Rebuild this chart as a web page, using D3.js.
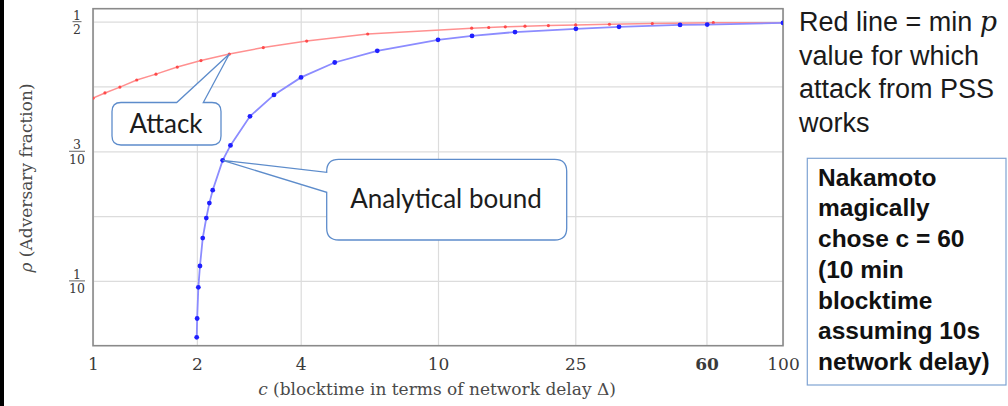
<!DOCTYPE html>
<html>
<head>
<meta charset="utf-8">
<script src="https://cdn.jsdelivr.net/npm/d3@7"></script>
<style>
  html, body { margin: 0; padding: 0; background: #fff; }
  svg { display: block; }
</style>
</head>
<body>
<div id="chart"></div>
<script>
// 数据：横轴 c（区块时间 / 网络延迟），纵轴 rho（对手占比）
const attackC   = [1, 1.083, 1.197, 1.339, 1.522, 1.755, 2.056, 2.484, 3.116, 4.163, 6.255, 12.52, 14.03, 15.67, 17.87, 20.89, 25.06, 31.4, 41.8, 62.8, 100];
const attackRho = [0.382, 0.390, 0.399, 0.410, 0.419, 0.430, 0.440, 0.450, 0.460, 0.470, 0.481, 0.490, 0.491, 0.492, 0.493, 0.494, 0.495, 0.496, 0.497, 0.4985, 0.4985];

const boundC   = [1.998, 2.004, 2.02, 2.042, 2.08, 2.13, 2.174, 2.223, 2.376, 2.503, 2.851, 3.346, 4.008, 5.02, 6.668, 10.0, 12.55, 16.72, 25.1, 33.47, 50.3, 60.3, 100];
const boundRho = [0.013, 0.042, 0.090, 0.123, 0.166, 0.197, 0.220, 0.240, 0.286, 0.309, 0.354, 0.387, 0.414, 0.437, 0.455, 0.472, 0.478, 0.484, 0.489, 0.492, 0.495, 0.4955, 0.498];

// 刻度
const xTickValues = [1, 2, 4, 10, 25, 60, 100];
const yGridValues = [0.1, 0.2, 0.3, 0.4, 0.5];
const yTickValues = [0.1, 0.3, 0.5];
const yTickNum = ["1", "3", "1"];
const yTickDen = ["10", "10", "2"];

// 右侧文字
const noteLines = ["Red line = min ", "value for which", "attack from PSS", "works"];
const boxLines = ["Nakamoto", "magically", "chose c = 60", "(10 min", "blocktime", "assuming 10s", "network delay)"];

const W = 1008, H = 406;
const plot = { left: 93, right: 783, top: 8.7, bottom: 345.7 };

const svg = d3.select("#chart").append("svg")
    .attr("width", W)
    .attr("height", H);

// 左侧黑色边条
svg.append("rect").attr("x", 0).attr("y", 0).attr("width", 4).attr("height", H).attr("fill", "#000");

const x = d3.scaleLog().domain([1, 100]).range([plot.left, plot.right]);
const y = d3.scaleLinear().domain([0, 0.52]).range([plot.bottom, plot.top]);

const serif = "'DejaVu Serif', serif";

// 网格线
const gx = svg.append("g")
    .attr("transform", `translate(0,${plot.bottom})`)
    .call(d3.axisBottom(x).tickValues(xTickValues).tickSize(-(plot.bottom - plot.top)).tickFormat(d => d));
gx.select(".domain").remove();
gx.selectAll(".tick line").attr("stroke", "#dcdcdc").attr("stroke-width", 1.2);
gx.selectAll(".tick text")
    .attr("y", 12)
    .attr("font-family", serif)
    .attr("font-size", 17)
    .attr("fill", "#3a3a3a")
    .attr("font-weight", d => d === 60 ? "bold" : "normal");

const gy = svg.append("g")
    .attr("transform", `translate(${plot.left},0)`)
    .call(d3.axisLeft(y).tickValues(yGridValues).tickSize(-(plot.right - plot.left)).tickFormat(""));
gy.select(".domain").remove();
gy.selectAll(".tick line").attr("stroke", "#dcdcdc").attr("stroke-width", 1.2);

// 纵轴分数标签
const frac = svg.append("g")
    .selectAll("g")
    .data(yTickValues)
    .enter().append("g")
    .attr("transform", d => `translate(77,${y(d)})`);
frac.append("text")
    .text((d, i) => yTickNum[i])
    .attr("text-anchor", "middle")
    .attr("y", -2)
    .attr("font-family", serif)
    .attr("font-size", 12.5)
    .attr("fill", "#3a3a3a");
frac.append("line")
    .attr("x1", (d, i) => yTickDen[i].length > 1 ? -8 : -4.5)
    .attr("x2", (d, i) => yTickDen[i].length > 1 ? 8 : 4.5)
    .attr("y1", 0).attr("y2", 0)
    .attr("stroke", "#555").attr("stroke-width", 0.9);
frac.append("text")
    .text((d, i) => yTickDen[i])
    .attr("text-anchor", "middle")
    .attr("y", 12.5)
    .attr("font-family", serif)
    .attr("font-size", 12.5)
    .attr("fill", "#3a3a3a");

// 边框
svg.append("rect")
    .attr("x", plot.left).attr("y", plot.top)
    .attr("width", plot.right - plot.left).attr("height", plot.bottom - plot.top)
    .attr("fill", "none").attr("stroke", "#8a8a8a").attr("stroke-width", 1.6);

// 轴标题
svg.append("text")
    .attr("x", 437).attr("y", 395)
    .attr("text-anchor", "middle")
    .attr("font-family", serif).attr("font-size", 17).attr("fill", "#4a4a4a")
    .call(t => {
        t.append("tspan").attr("font-style", "italic").text("c");
        t.append("tspan").text(" (blocktime in terms of network delay Δ)");
    });
svg.append("text")
    .attr("transform", "translate(32,178) rotate(-90)")
    .attr("text-anchor", "middle")
    .attr("font-family", serif).attr("font-size", 17).attr("fill", "#4a4a4a")
    .call(t => {
        t.append("tspan").attr("font-style", "italic").text("ρ");
        t.append("tspan").text(" (Adversary fraction)");
    });

// 裁剪
svg.append("clipPath").attr("id", "clip")
    .append("rect")
    .attr("x", plot.left).attr("y", plot.top)
    .attr("width", plot.right - plot.left).attr("height", plot.bottom - plot.top);

const attackData = attackC.map((c, i) => ({ c, r: attackRho[i] }));
const boundData = boundC.map((c, i) => ({ c, r: boundRho[i] }));

const line = d3.line().x(d => x(d.c)).y(d => y(d.r));
const series = svg.append("g").attr("clip-path", "url(#clip)");

series.append("path").datum(attackData)
    .attr("d", line).attr("fill", "none")
    .attr("stroke", "#ff9090").attr("stroke-width", 1.5);
series.append("g").selectAll("circle").data(attackData).enter().append("circle")
    .attr("cx", d => x(d.c)).attr("cy", d => y(d.r)).attr("r", 1.6)
    .attr("fill", "#ff4a4a");

series.append("path").datum(boundData)
    .attr("d", line).attr("fill", "none")
    .attr("stroke", "#8c8cff").attr("stroke-width", 1.8);
series.append("g").selectAll("circle").data(boundData).enter().append("circle")
    .attr("cx", d => x(d.c)).attr("cy", d => y(d.r)).attr("r", 2.4)
    .attr("fill", "#1f1fff");

// 标注框（圆角矩形 + 指针）
function calloutPath(b, side, p0, p1, tip) {
    const r = b.r, x0 = b.x0, x1 = b.x1, y0 = b.y0, y1 = b.y1;
    let d = `M${x0 + r},${y0}`;
    if (side === "top") d += `L${p0},${y0}L${tip[0]},${tip[1]}L${p1},${y0}`;
    d += `L${x1 - r},${y0}Q${x1},${y0} ${x1},${y0 + r}`;
    d += `L${x1},${y1 - r}Q${x1},${y1} ${x1 - r},${y1}`;
    d += `L${x0 + r},${y1}Q${x0},${y1} ${x0},${y1 - r}`;
    if (side === "left") d += `L${x0},${p1}L${tip[0]},${tip[1]}L${x0},${p0}`;
    d += `L${x0},${y0 + r}Q${x0},${y0} ${x0 + r},${y0}Z`;
    return d;
}

const callStroke = "#5d8ccb";
const callFont = "Lato, 'Open Sans', sans-serif";

// Attack：指向红线上 c≈2.48 的点
const attackTip = [x(attackC[7]), y(attackRho[7])];
svg.append("path")
    .attr("d", calloutPath({ x0: 112, x1: 221, y0: 102.5, y1: 145, r: 9 }, "top", 176.7, 203.3, attackTip))
    .attr("fill", "#fff").attr("stroke", callStroke).attr("stroke-width", 1.3);
svg.append("text")
    .attr("x", 166).attr("y", 132.5)
    .attr("text-anchor", "middle")
    .attr("font-family", callFont).attr("font-size", 26).attr("fill", "#1c1c1c")
    .text("Attack");

// Analytical bound：指向蓝线上 c≈2.38 的点
const boundTip = [x(boundC[8]), y(boundRho[8])];
svg.append("path")
    .attr("d", calloutPath({ x0: 326.7, x1: 566.7, y0: 159.3, y1: 240, r: 12 }, "left", 172.3, 192.3, boundTip))
    .attr("fill", "#fff").attr("stroke", callStroke).attr("stroke-width", 1.3);
svg.append("text")
    .attr("x", 446).attr("y", 207.5)
    .attr("text-anchor", "middle")
    .attr("font-family", callFont).attr("font-size", 26).attr("fill", "#1c1c1c")
    .text("Analytical bound");

// 右侧说明文字
const note = svg.append("g");
noteLines.forEach((s, i) => {
    const t = note.append("text")
        .attr("x", 799).attr("y", 31 + i * 33.6)
        .attr("font-family", "'Liberation Sans', Arial, sans-serif")
        .attr("font-size", 27).attr("fill", "#1a1a1a")
        .text(s);
    if (i === 0) {
        t.append("tspan").attr("font-family", serif).attr("font-style", "italic").text("p");
    }
});

svg.append("rect")
    .attr("x", 807.3).attr("y", 158.3)
    .attr("width", 1006 - 807.3).attr("height", 385 - 158.3)
    .attr("fill", "none").attr("stroke", "#7fa3d3").attr("stroke-width", 1.2);
const box = svg.append("g");
boxLines.forEach((s, i) => {
    box.append("text")
        .attr("x", 818).attr("y", 185.7 + i * 30.7)
        .attr("font-family", "'Liberation Sans', Arial, sans-serif")
        .attr("font-size", 24.5).attr("font-weight", "bold").attr("fill", "#111")
        .text(s);
});
</script>
</body>
</html>
